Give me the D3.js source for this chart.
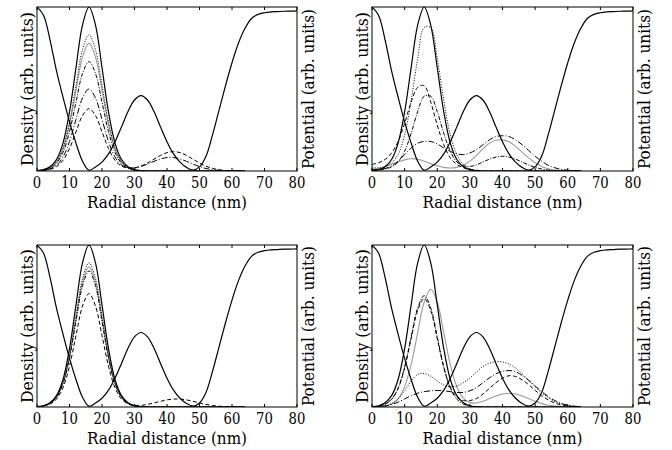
<!DOCTYPE html>
<html>
<head>
<meta charset="utf-8">
<script src="https://cdn.jsdelivr.net/npm/d3@7"></script>
<style>
  body { margin: 0; background: #fff; }
</style>
</head>
<body>
<div id="chart"></div>
<script>
// radial grid (nm) for the densities and for the potential
const radial = [0,2,4,6,8,10,12,14,16,18,20,22,24,26,28,30,32,34,36,38,40,42,44,46,48,50,52,54,56,58,60,62,64];
const potRadial = [0,2,4,6,8,10,12,14,16,18,20,22,24,26,28,30,32,34,36,38,40,42,44,46,48,50,52,54,56,58,60,62,64,66,68,70,72,74,76,78,80];
const potential = [1.0,0.95,0.80,0.61,0.45,0.30,0.17,0.06,0.005,0.025,0.054,0.104,0.178,0.269,0.363,0.433,0.46,0.433,0.363,0.269,0.178,0.104,0.054,0.022,0.006,0.025,0.09,0.22,0.37,0.52,0.66,0.78,0.87,0.93,0.955,0.965,0.97,0.972,0.974,0.975,0.976];
const xTicks = [0,10,20,30,40,50,60,70,80];

// top left
const p1Solid   = [0.002,0.008,0.026,0.07,0.17,0.36,0.63,0.89,1,0.89,0.63,0.36,0.17,0.07,0.026,0.008,0.002,0,0,0,0,0,0,0,0,0,0,0,0,0,0,0,0];
const p1Dotted  = [0.002,0.007,0.022,0.058,0.141,0.299,0.523,0.739,0.83,0.739,0.523,0.299,0.141,0.058,0.022,0.007,0.002,0,0,0,0,0,0,0,0,0,0,0,0,0,0,0,0];
const p1Gray    = [0.002,0.006,0.020,0.055,0.133,0.281,0.491,0.694,0.78,0.694,0.491,0.281,0.133,0.055,0.020,0.006,0.002,0,0,0,0,0,0,0,0,0,0,0,0,0,0,0,0];
const p1DashDot = [0.001,0.005,0.017,0.047,0.113,0.240,0.420,0.594,0.667,0.594,0.420,0.240,0.113,0.047,0.017,0.005,0.001,0,0,0,0,0,0,0,0,0,0,0,0,0,0,0,0];
const p1LongDot = [0.001,0.004,0.013,0.035,0.085,0.18,0.315,0.445,0.50,0.445,0.315,0.18,0.085,0.037,0.021,0.019,0.028,0.042,0.059,0.073,0.082,0.082,0.073,0.059,0.042,0.027,0.015,0.008,0.004,0.002,0.001,0,0];
const p1Dashed  = [0.001,0.003,0.010,0.027,0.065,0.137,0.239,0.338,0.38,0.338,0.239,0.137,0.065,0.030,0.018,0.019,0.030,0.049,0.072,0.095,0.112,0.118,0.112,0.095,0.072,0.049,0.029,0.016,0.008,0.003,0.001,0,0];

// top right
const p2Solid   = [0.002,0.008,0.026,0.07,0.17,0.36,0.63,0.89,1,0.89,0.63,0.36,0.17,0.07,0.026,0.008,0.002,0,0,0,0,0,0,0,0,0,0,0,0,0,0,0,0];
const p2Dotted  = [0.02,0.02,0.028,0.05,0.10,0.22,0.43,0.685,0.875,0.875,0.685,0.43,0.22,0.10,0.04,0.012,0.003,0,0,0,0,0,0,0,0,0,0,0,0,0,0,0,0];
const p2Gray    = [0.01,0.015,0.025,0.04,0.055,0.068,0.075,0.072,0.06,0.045,0.032,0.022,0.018,0.022,0.035,0.06,0.095,0.135,0.17,0.188,0.19,0.178,0.15,0.115,0.08,0.05,0.028,0.014,0.006,0.002,0,0,0];
const p2DashDot = [0.001,0.004,0.012,0.025,0.055,0.12,0.23,0.362,0.456,0.456,0.362,0.23,0.12,0.055,0.032,0.028,0.037,0.055,0.072,0.085,0.09,0.085,0.072,0.055,0.037,0.022,0.012,0.006,0.003,0.001,0,0,0];
const p2LongDot = [0.01,0.01,0.015,0.03,0.06,0.10,0.14,0.17,0.18,0.18,0.165,0.14,0.12,0.105,0.10,0.11,0.13,0.16,0.19,0.21,0.215,0.21,0.19,0.16,0.125,0.09,0.06,0.035,0.02,0.01,0.005,0,0];
const p2Dashed  = [0.04,0.05,0.07,0.11,0.18,0.29,0.42,0.51,0.52,0.42,0.28,0.16,0.08,0.04,0.02,0.01,0.005,0,0,0,0,0,0,0,0,0,0,0,0,0,0,0,0];

// bottom left
const p3Solid   = [0.002,0.008,0.026,0.07,0.17,0.36,0.63,0.89,1,0.89,0.63,0.36,0.17,0.07,0.026,0.008,0.002,0,0,0,0,0,0,0,0,0,0,0,0,0,0,0,0];
const p3Dotted  = [0.002,0.007,0.023,0.062,0.151,0.320,0.561,0.792,0.89,0.792,0.561,0.320,0.151,0.062,0.023,0.007,0.002,0,0,0,0,0,0,0,0,0,0,0,0,0,0,0,0];
const p3Gray    = [0.002,0.007,0.022,0.061,0.147,0.311,0.545,0.770,0.865,0.770,0.545,0.311,0.147,0.061,0.022,0.007,0.002,0,0,0,0,0,0,0,0,0,0,0,0,0,0,0,0];
const p3DashDot = [0.002,0.007,0.022,0.059,0.143,0.302,0.529,0.748,0.84,0.748,0.529,0.302,0.143,0.059,0.022,0.007,0.002,0,0,0,0,0,0,0,0,0,0,0,0,0,0,0,0];
const p3Dashed  = [0.001,0.006,0.018,0.049,0.119,0.252,0.441,0.623,0.70,0.623,0.441,0.252,0.119,0.049,0.020,0.011,0.010,0.016,0.025,0.035,0.044,0.049,0.049,0.044,0.035,0.025,0.016,0.009,0.005,0.002,0.001,0,0];

// bottom right
const p4Solid   = [0.002,0.008,0.026,0.07,0.17,0.36,0.63,0.89,1,0.89,0.63,0.36,0.17,0.07,0.026,0.008,0.002,0,0,0,0,0,0,0,0,0,0,0,0,0,0,0,0];
const p4Dotted  = [0,0.002,0.006,0.02,0.05,0.10,0.16,0.20,0.207,0.19,0.16,0.135,0.125,0.13,0.15,0.18,0.215,0.25,0.27,0.28,0.278,0.265,0.24,0.205,0.165,0.125,0.088,0.058,0.035,0.02,0.01,0.005,0.002];
const p4Gray    = [0,0.002,0.006,0.018,0.05,0.125,0.262,0.458,0.648,0.727,0.648,0.458,0.262,0.125,0.055,0.027,0.025,0.035,0.052,0.068,0.080,0.085,0.080,0.068,0.052,0.035,0.021,0.011,0.006,0.002,0.001,0,0];
const p4DashDot = [0.001,0.005,0.018,0.048,0.117,0.247,0.433,0.611,0.687,0.611,0.433,0.247,0.117,0.048,0.018,0.005,0.001,0,0,0,0,0,0,0,0,0,0,0,0,0,0,0,0];
const p4LongDot = [0,0.002,0.006,0.015,0.03,0.05,0.07,0.085,0.095,0.10,0.102,0.10,0.095,0.09,0.09,0.10,0.12,0.15,0.18,0.205,0.22,0.225,0.218,0.195,0.165,0.13,0.095,0.065,0.04,0.022,0.012,0.005,0.002];
const p4Dashed  = [0.001,0.005,0.017,0.047,0.114,0.241,0.422,0.596,0.67,0.596,0.422,0.245,0.12,0.06,0.04,0.04,0.052,0.08,0.115,0.15,0.178,0.193,0.188,0.168,0.138,0.103,0.07,0.044,0.025,0.013,0.006,0.002,0];

const styles = {
  solid:   { stroke: "#000", dash: null, width: 1.2 },
  gray:    { stroke: "#9a9a9a", dash: null, width: 1.1 },
  dotted:  { stroke: "#000", dash: "1,1.6", width: 1 },
  dashdot: { stroke: "#000", dash: "4,1.5,1,1.5", width: 1 },
  longdot: { stroke: "#000", dash: "6,2,1,2", width: 1 },
  dashed:  { stroke: "#000", dash: "4,2.5", width: 1 }
};

const panels = [
  { left: 37,  top: 7,   width: 260, height: 164, series: [["gray",p1Gray],["dotted",p1Dotted],["dashdot",p1DashDot],["longdot",p1LongDot],["dashed",p1Dashed],["solid",p1Solid]] },
  { left: 372, top: 7,   width: 261, height: 164, series: [["gray",p2Gray],["dotted",p2Dotted],["dashdot",p2DashDot],["longdot",p2LongDot],["dashed",p2Dashed],["solid",p2Solid]] },
  { left: 37,  top: 245, width: 260, height: 162, series: [["gray",p3Gray],["dotted",p3Dotted],["dashdot",p3DashDot],["dashed",p3Dashed],["solid",p3Solid]] },
  { left: 372, top: 245, width: 261, height: 162, series: [["gray",p4Gray],["dotted",p4Dotted],["dashdot",p4DashDot],["longdot",p4LongDot],["dashed",p4Dashed],["solid",p4Solid]] }
];

const svg = d3.select("#chart").append("svg")
  .attr("width", 672).attr("height", 450);

// pick the first serif family that the browser really has (Times-like look)
const probe = svg.append("text").attr("font-size", 40).text("Radial distance (nm) WMil");
function widthWith(fam) { probe.attr("font-family", fam); return probe.node().getComputedTextLength(); }
const noFont = widthWith("'NoSuchFontXyz'");
const candidates = ["Liberation Serif", "Times New Roman", "Tinos", "Nimbus Roman", "Times", "DejaVu Serif Condensed", "DejaVu Serif", "Noto Serif"];
let serif = "serif";
for (const c of candidates) {
  if (Math.abs(widthWith(`'${c}'`) - noFont) > 0.5) { serif = `'${c}', serif`; break; }
}
probe.remove();
svg.attr("font-family", serif);

// Times-like widths measured on the picture, used to squeeze wider serif faces
const digitWidth = 8.4;
const labelWidths = { x: 160, left: 154, right: 160 };

panels.forEach((p, k) => {
  const x = d3.scaleLinear().domain([0, 80]).range([0, p.width]);
  const y = d3.scaleLinear().domain([0, 1]).range([p.height, 0]);
  const g = svg.append("g").attr("transform", `translate(${p.left},${p.top})`);

  g.append("clipPath").attr("id", "clip" + k)
    .append("rect").attr("width", p.width).attr("height", p.height);

  const plot = g.append("g").attr("clip-path", `url(#clip${k})`);
  const line = d3.line().curve(d3.curveCatmullRom.alpha(0.5));

  p.series.forEach(([kind, vals]) => {
    const st = styles[kind];
    plot.append("path")
      .attr("d", line(vals.map((v, i) => [x(radial[i]), y(v)])))
      .attr("fill", "none")
      .attr("stroke", st.stroke)
      .attr("stroke-width", st.width)
      .attr("stroke-dasharray", st.dash);
  });

  plot.append("path")
    .attr("d", line(potential.map((v, i) => [x(potRadial[i]), y(v)])))
    .attr("fill", "none").attr("stroke", "#000").attr("stroke-width", 1.2);

  // frame and inward ticks on top and bottom
  g.append("rect").attr("width", p.width).attr("height", p.height)
    .attr("fill", "none").attr("stroke", "#000").attr("stroke-width", 1);
  xTicks.forEach(t => {
    g.append("line").attr("x1", x(t)).attr("x2", x(t)).attr("y1", p.height).attr("y2", p.height - 3)
      .attr("stroke", "#000");
    g.append("line").attr("x1", x(t)).attr("x2", x(t)).attr("y1", 0).attr("y2", 3)
      .attr("stroke", "#000");
    g.append("text").attr("x", x(t)).attr("y", p.height + 16.5)
      .attr("text-anchor", "middle").attr("font-size", 16)
      .attr("textLength", String(t).length * digitWidth).attr("lengthAdjust", "spacingAndGlyphs")
      .text(t);
  });

  g.append("text").attr("x", p.width / 2).attr("y", p.height + 36.5)
    .attr("text-anchor", "middle").attr("font-size", 17.5)
    .attr("textLength", labelWidths.x).attr("lengthAdjust", "spacingAndGlyphs")
    .text("Radial distance (nm)");
  g.append("text").attr("transform", `translate(-4,${p.height / 2}) rotate(-90)`)
    .attr("text-anchor", "middle").attr("font-size", 17.5)
    .attr("textLength", labelWidths.left).attr("lengthAdjust", "spacingAndGlyphs")
    .text("Density (arb. units)");
  g.append("text").attr("transform", `translate(${p.width + 17},${p.height / 2}) rotate(-90)`)
    .attr("text-anchor", "middle").attr("font-size", 17.5)
    .attr("textLength", labelWidths.right).attr("lengthAdjust", "spacingAndGlyphs")
    .text("Potential (arb. units)");
});
</script>
</body>
</html>
